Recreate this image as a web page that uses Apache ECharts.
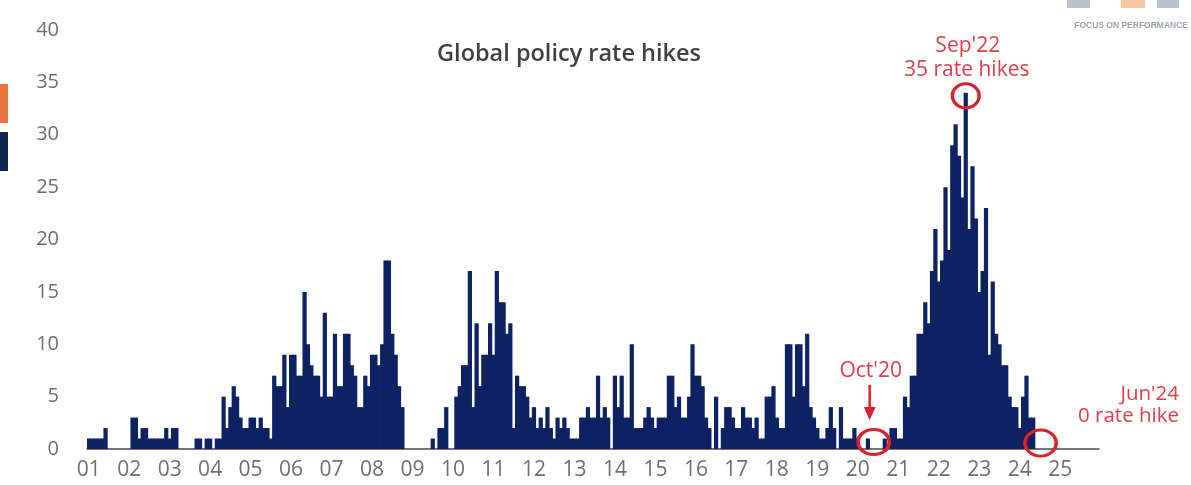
<!DOCTYPE html>
<html>
<head>
<meta charset="utf-8">
<script src="https://cdn.jsdelivr.net/npm/echarts@6/dist/echarts.min.js"></script>
<style>
html,body{margin:0;padding:0;background:#ffffff;}
#chart{width:1191px;height:485px;}
</style>
</head>
<body>
<div id="chart"></div>
<script>
// ---- Data: global policy rate hikes per month ----
const startYear = 2001;
const endYear = 2025;
const hikes2001 = [1,1,1,1,1,2,0,0,0,0,0,0];
const hikes2002 = [0,3,3,1,2,2,1,1,1,1,1,2];
const hikes2003 = [1,2,2,0,0,0,0,0,1,1,0,1];
const hikes2004 = [1,0,1,1,5,2,4,6,5,3,2,2];
const hikes2005 = [3,3,2,3,2,2,1,7,6,6,9,4];
const hikes2006 = [9,9,7,7,15,10,8,7,7,5,13,5];
const hikes2007 = [5,11,6,6,11,11,8,7,4,4,7,6];
const hikes2008 = [9,9,8,10,18,18,11,9,6,4,0,0];
const hikes2009 = [0,0,0,0,0,0,1,0,2,2,4,0];
const hikes2010 = [0,5,6,8,8,17,4,12,6,9,9,12];
const hikes2011 = [9,17,14,14,11,12,2,7,6,6,5,3];
const hikes2012 = [4,2,3,2,4,2,1,3,2,3,2,1];
const hikes2013 = [1,1,3,3,4,3,3,7,3,4,3,0];
const hikes2014 = [7,4,7,3,3,10,2,2,2,3,4,3];
const hikes2015 = [2,3,3,3,7,7,4,5,3,3,5,10];
const hikes2016 = [7,7,6,3,2,0,5,0,2,4,4,3];
const hikes2017 = [2,2,4,3,3,2,3,1,1,5,5,6];
const hikes2018 = [3,2,2,10,10,5,10,10,6,11,4,3];
const hikes2019 = [2,1,1,2,4,2,0,4,1,1,1,2];
const hikes2020 = [1,0,0,1,0,0,0,0,1,0,2,2];
const hikes2021 = [1,1,5,4,7,7,11,11,14,12,17,21];
const hikes2022 = [16,18,25,19,29,31,28,24,34,21,27,22];
const hikes2023 = [15,17,23,9,16,11,10,8,8,5,4,4];
const hikes2024 = [2,5,7,3,3,0];

const yMin = 0, yMax = 40, yStep = 5;

const titleText = 'Global policy rate hikes';
const peakNote = { month: '2022-09', value: 34, lines: ["Sep'22", '35 rate hikes'] };
const covidNote = { month: '2020-06', value: 0, label: "Oct'20" };
const lastNote = { month: '2024-06', value: 0, lines: ["Jun'24", '0 rate hike'] };

// ---- Build categories / series ----
const categories = [];
for (let y = startYear; y <= endYear; y++) {
  for (let m = 1; m <= 12; m++) categories.push(y + '-' + String(m).padStart(2, '0'));
}
const values = [].concat(hikes2001, hikes2002, hikes2003, hikes2004, hikes2005, hikes2006,
  hikes2007, hikes2008, hikes2009, hikes2010, hikes2011, hikes2012, hikes2013, hikes2014,
  hikes2015, hikes2016, hikes2017, hikes2018, hikes2019, hikes2020, hikes2021, hikes2022,
  hikes2023, hikes2024);
while (values.length < categories.length) values.push(null);

const RED = '#df3d4a';
const RING = '#d9222e';
const NAVY = '#0e2163';
const FONT = "'Open Sans', 'Noto Sans', sans-serif";

const chart = echarts.init(document.getElementById('chart'), null, { renderer: 'canvas' });

chart.setOption({
  animation: false,
  backgroundColor: '#ffffff',
  grid: { left: 87, right: 92, top: 30, bottom: 36, containLabel: false },
  xAxis: {
    type: 'category',
    data: categories,
    boundaryGap: true,
    axisLine: { show: true, lineStyle: { color: '#4a4a4a', width: 1.6 } },
    axisTick: { show: false },
    axisLabel: {
      interval: function (idx) { return idx % 12 === 0; },
      formatter: function (v) { return v.slice(2, 4); },
      color: '#6f6f6f',
      fontSize: 21,
      fontFamily: FONT,
      margin: 11
    },
    splitLine: { show: false }
  },
  yAxis: {
    type: 'value',
    min: yMin,
    max: yMax,
    interval: yStep,
    axisLine: { show: false },
    axisTick: { show: false },
    splitLine: { show: false },
    axisLabel: { color: '#6f6f6f', fontSize: 20, fontFamily: FONT, margin: 28 }
  },
  series: [{
    type: 'bar',
    data: values,
    barWidth: '125%',
    itemStyle: { color: NAVY },
    silent: true
  }]
});

function px(month, value) {
  return chart.convertToPixel({ xAxisIndex: 0, yAxisIndex: 0 }, [month, value]);
}

const pk = px(peakNote.month, peakNote.value);
const cv = px(covidNote.month, covidNote.value);
const ls = px(lastNote.month, lastNote.value);

function ring(cx, cy, r, sx) {
  return {
    type: 'circle', x: cx, y: cy, scaleX: sx, scaleY: 1,
    shape: { cx: 0, cy: 0, r: r },
    style: { fill: 'none', stroke: RING, lineWidth: 3 },
    z: 100
  };
}
function label(text, x, y, align, size, color, weight) {
  return {
    type: 'text', x: x, y: y, z: 100,
    style: {
      text: text, fill: color, fontSize: size, fontFamily: FONT,
      fontWeight: weight || 'normal', textAlign: align, textVerticalAlign: 'middle'
    }
  };
}

const graphics = [
  // title
  label(titleText, 569, 54, 'center', 23.5, '#404040', 600),
  // peak annotation
  ring(pk[0], pk[1] + 3, 12, 1.12),
  label(peakNote.lines[0], pk[0] + 2, 46, 'center', 21, RED),
  label(peakNote.lines[1], pk[0] + 1, 70, 'center', 21, RED),
  // Oct'20 annotation
  ring(cv[0] - 1, cv[1] - 7, 12.5, 1.25),
  label(covidNote.label, cv[0] - 4, 371, 'center', 21, RED),
  { type: 'line', z: 100, shape: { x1: cv[0] - 5, y1: 385, x2: cv[0] - 5, y2: 410 },
    style: { stroke: RING, lineWidth: 2.5 } },
  { type: 'polygon', z: 100, shape: { points: [[cv[0] - 11, 407], [cv[0] + 1, 407], [cv[0] - 5, 420]] },
    style: { fill: RING } },
  // Jun'24 annotation
  ring(ls[0] + 4, ls[1] - 6, 13, 1.2),
  label(lastNote.lines[0], 1179, 394, 'right', 20.5, RED),
  label(lastNote.lines[1], 1179, 416, 'right', 20.5, RED),
  // cropped decorations from the source slide
  { type: 'rect', shape: { x: 0, y: 84, width: 8, height: 39 }, style: { fill: '#e8743b' } },
  { type: 'rect', shape: { x: 0, y: 132, width: 8, height: 39 }, style: { fill: '#0e2550' } },
  { type: 'rect', shape: { x: 1067, y: 0, width: 23, height: 8 }, style: { fill: '#b9c1cd' } },
  { type: 'rect', shape: { x: 1121, y: 0, width: 24, height: 8 }, style: { fill: '#f6c8a4' } },
  { type: 'rect', shape: { x: 1157, y: 0, width: 22, height: 8 }, style: { fill: '#b9c1cd' } },
  label('FOCUS ON PERFORMANCE', 1188, 26, 'right', 8.5, '#9aa4b4', 'bold')
];
graphics[graphics.length - 1].style.fontFamily = "'Liberation Sans', Arial, sans-serif";

chart.setOption({ graphic: graphics });
</script>
</body>
</html>
